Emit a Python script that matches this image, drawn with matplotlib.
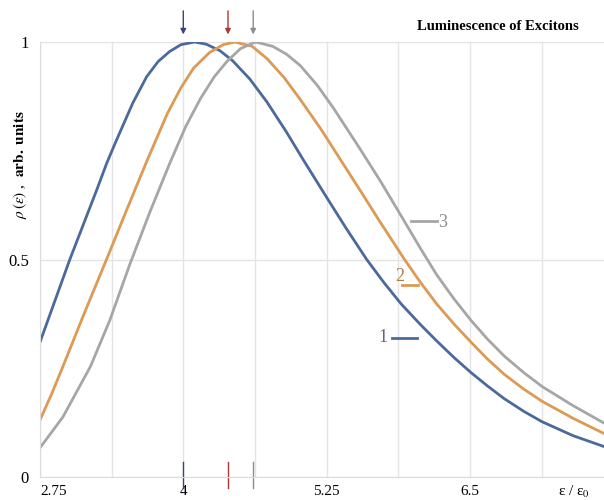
import numpy as np
import matplotlib
matplotlib.use('Agg')
import matplotlib.pyplot as plt

plt.rcParams['font.family'] = ['Liberation Serif', 'DejaVu Serif']
plt.rcParams['mathtext.fontset'] = 'stix'

# curve 1 (blue)
x1 = [2.75, 3.01, 3.245, 3.33, 3.41, 3.56, 3.68, 3.78, 3.88, 3.98, 4.10,
      4.2, 4.32, 4.43, 4.58, 4.73, 4.90, 5.04, 5.25, 5.42, 5.60, 5.75, 5.90,
      6.07, 6.21, 6.36, 6.51, 6.65, 6.80, 6.97, 7.13, 7.4, 7.67]
y1 = [0.31, 0.50, 0.66, 0.72, 0.77, 0.86, 0.92, 0.955, 0.978, 0.994, 1.0,
      0.995, 0.98, 0.957, 0.915, 0.862, 0.793, 0.732, 0.643, 0.572, 0.50, 0.447, 0.398,
      0.35, 0.313, 0.275, 0.24, 0.21, 0.18, 0.151, 0.127, 0.095, 0.07]

# curve 2 (orange)
x2 = [2.75, 2.85, 2.95, 3.125, 3.33, 3.5, 3.68, 3.86, 3.98, 4.09, 4.23, 4.35,
      4.45, 4.6, 4.73, 4.88, 5.02, 5.2, 5.37, 5.54, 5.72, 5.93, 6.07, 6.21,
      6.36, 6.51, 6.65, 6.80, 6.97, 7.13, 7.4, 7.67]
y2 = [0.131, 0.19, 0.254, 0.369, 0.50, 0.61, 0.725, 0.835, 0.895, 0.94, 0.976, 0.994,
      1.0, 0.99, 0.962, 0.918, 0.868, 0.8, 0.73, 0.66, 0.585, 0.50, 0.447, 0.398,
      0.352, 0.31, 0.272, 0.236, 0.202, 0.174, 0.135, 0.10]

# curve 3 (gray)
x3 = [2.75, 2.95, 3.19, 3.36, 3.535, 3.71, 3.88, 4.02, 4.15, 4.27, 4.38, 4.5,
      4.63, 4.78, 4.9, 5.02, 5.17, 5.31, 5.54, 5.72, 5.89, 6.07, 6.21, 6.36,
      6.51, 6.65, 6.80, 6.97, 7.13, 7.4, 7.67]
y3 = [0.067, 0.138, 0.254, 0.361, 0.49, 0.61, 0.72, 0.805, 0.87, 0.92, 0.955, 0.985,
      1.0, 0.99, 0.972, 0.946, 0.9, 0.848, 0.755, 0.68, 0.605, 0.525, 0.465, 0.41,
      0.36, 0.318, 0.278, 0.24, 0.208, 0.164, 0.124]

peak_marks = [4.0, 4.39, 4.61]
xticks = [2.75, 4, 5.25, 6.5]
xtick_labels = ['2.75', '4', '5.25', '6.5']
yticks = [0, 0.5, 1]
ytick_labels = ['0', '0.5', '1']

line_colors = ['#4b6a9b', '#dc9a55', '#a6a6a6']
mark_colors = ['#3c4379', '#a83a3a', '#8c8c8c']
num_colors = ['#59688a', '#b07a4a', '#8c8c8c']

fig = plt.figure(figsize=(6.04, 5.0), dpi=100)
ax = fig.add_axes([40 / 604, 23 / 500, 564 / 604, 435 / 500])

for xs, ys, c in zip([x1, x2, x3], [y1, y2, y3], line_colors):
    ax.plot(xs, ys, color=c, lw=2.0, solid_capstyle='round', solid_joinstyle='round')

ax.set_xlim(2.75, 7.67)
ax.set_ylim(0, 1)

ax.set_xticks(xticks)
ax.set_xticklabels(xtick_labels, fontsize=11)
ax.get_xticklabels()[0].set_horizontalalignment('left')
ax.set_xticks(np.arange(2.75, 7.7, 0.625), minor=True)
ax.set_yticks(yticks)
ax.set_yticklabels(ytick_labels, fontsize=12)
ax.tick_params(which='both', length=0)
ax.tick_params(axis='x', pad=6)
ax.tick_params(axis='y', pad=8)

ax.grid(True, which='both', axis='x', color='#e4e4e4', lw=1)
ax.grid(True, which='major', axis='y', color='#e4e4e4', lw=1)
ax.set_axisbelow(True)
for side in ['top', 'right']:
    ax.spines[side].set_visible(False)
for side in ['left', 'bottom']:
    ax.spines[side].set_color('#dcdcdc')

# arrows at the maxima and short ticks at the bottom
for xm, c in zip(peak_marks, mark_colors):
    ax.annotate('', xy=(xm, 1.011), xytext=(xm, 1.078),
                arrowprops=dict(arrowstyle='-|>', color=c, lw=1, mutation_scale=8),
                annotation_clip=False)
    ax.plot([xm, xm], [0.034, -0.025], color=c, lw=1, clip_on=False)

# curve numbers
ax.text(5.74, 0.32, '1', fontsize=13, color=num_colors[0], ha='center', va='center')
ax.plot([5.82, 6.04], [0.32, 0.32], color=line_colors[0], lw=2)
ax.text(5.89, 0.46, '2', fontsize=13, color=num_colors[1], ha='center', va='center')
ax.plot([5.91, 6.05], [0.441, 0.441], color=line_colors[1], lw=2)
ax.text(6.26, 0.586, '3', fontsize=13, color=num_colors[2], ha='center', va='center')
ax.plot([5.99, 6.21], [0.589, 0.589], color=line_colors[2], lw=2)

ax.text(7.41, -0.034, r'ε / ε$_0$', fontsize=11, ha='center', va='center')

fig.text(498 / 604, 1 - 26 / 500, 'Luminescence of Excitons', fontsize=10.5,
         fontweight='bold', ha='center', va='center')
fig.text(20 / 604, 1 - 165 / 500, r'$\rho\,(\varepsilon)$ ,  $\mathbf{arb.\ units}$',
         fontsize=11, rotation=90, ha='center', va='center')

fig.savefig('out.png', dpi=100)
